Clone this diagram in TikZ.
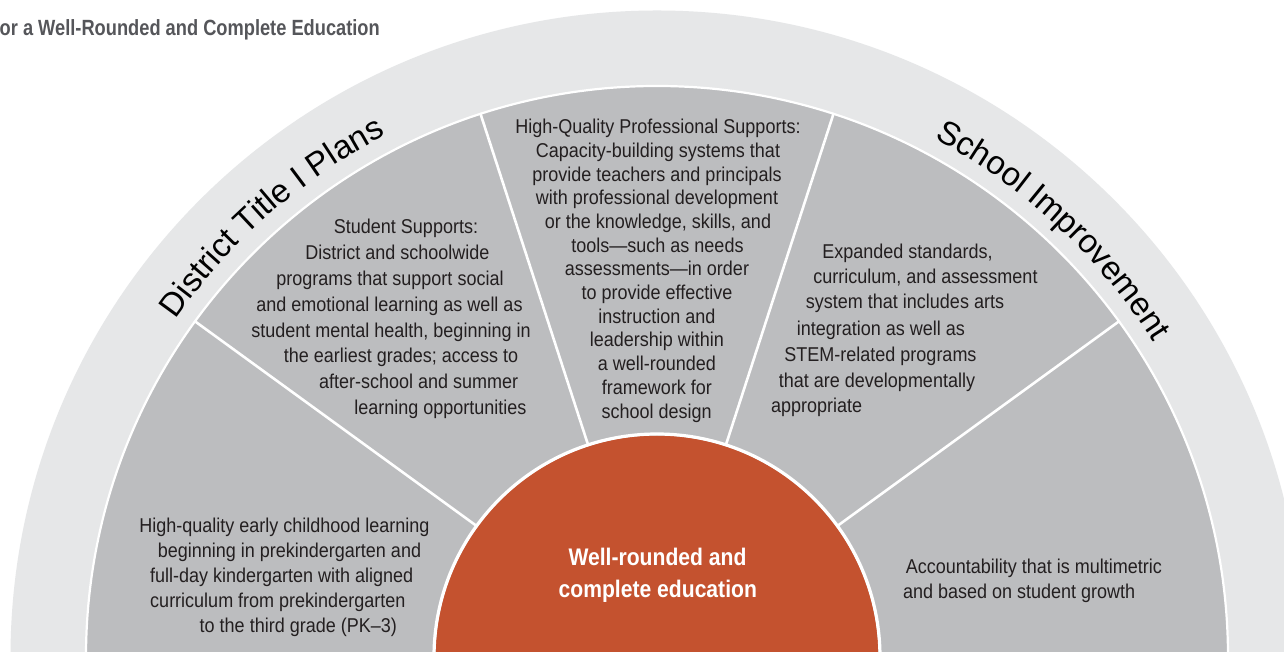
\documentclass[tikz,border=0pt]{standalone}
\usepackage{fontspec}
\setmainfont{Liberation Sans}
\newfontfamily\condfont{Liberation Sans}[FakeStretch=0.88]
\newfontfamily\bodyface{Liberation Sans}[FakeStretch=0.9]
\newfontfamily\titleface{Liberation Sans}[FakeStretch=0.83]
\usetikzlibrary{decorations.text}
\definecolor{ringgray}{HTML}{E6E7E8}
\definecolor{seggray}{HTML}{BCBDBF}
\definecolor{corered}{HTML}{C4522F}
\definecolor{ink}{HTML}{231F20}
\definecolor{titlegray}{HTML}{55565A}
\newcommand\bodyfont{\bodyface\fontsize{20}{24}\selectfont}
\newcommand\curvefont{\fontsize{33}{36}\selectfont}
\newcommand\tline[4]{\node[txt] (#1) at ({#2-657},{649.8-#3}) {#4};}
\begin{document}
\begin{tikzpicture}[x=1pt,y=1pt,
  txt/.style={font=\bodyfont, text=ink, inner sep=0pt, anchor=base},
  coretxt/.style={font=\condfont\bfseries\fontsize{24}{28}\selectfont, text=white, inner sep=0pt, anchor=base},
  spoke/.style={draw=white, line width=2.6pt},
  curvelabel/.style={decorate, decoration={text along path, text align=center, text={|\curvefont|#1}}}]
\useasboundingbox (-657,5) rectangle (627,657);
\clip (-657,5) rectangle (627,657);
\fill[white] (-657,5) rectangle (627,657);
% outer ring
\fill[ringgray] (0,0) circle[radius=646.5];
% gray segments
\fill[seggray] (0,0) circle[radius=570.5];
\draw[white, line width=2.2pt] (0,0) circle[radius=571];
\foreach \a in {36,72,108,144} \draw[spoke] (\a:215) -- (\a:572);
% core
\fill[corered] (0,0) circle[radius=221.5];
\draw[white, line width=3.2pt] (0,0) circle[radius=223];
% title
\node[font=\titleface\bfseries\fontsize{22}{26}\selectfont, text=titlegray, inner sep=0pt, anchor=base east] (title) at (-277,621) {or a Well-Rounded and Complete Education};
% curved labels
\path[curvelabel={District Title I Plans}] (151.2:588) arc[start angle=151.2, end angle=111.2, radius=588];
\path[curvelabel={School Improvement}] (67.1:588) arc[start angle=67.1, end angle=27.1, radius=588];
% middle segment
\tline{m1}{658}{126.5}{High-Quality Professional Supports:}
\tline{m2}{658}{150.2}{Capacity-building systems that}
\tline{m3}{657}{173.9}{provide teachers and principals}
\tline{m4}{657}{197.6}{with professional development}
\tline{m5}{658}{221.3}{or the knowledge, skills, and}
\tline{m6}{657.5}{245}{tools—such as needs}
\tline{m7}{657}{268.7}{assessments—in order}
\tline{m8}{657}{292.4}{to provide effective}
\tline{m9}{657}{316.1}{instruction and}
\tline{m10}{657}{339.8}{leadership within}
\tline{m11}{657}{363.5}{a well-rounded}
\tline{m12}{657}{387.2}{framework for}
\tline{m13}{656.7}{410.9}{school design}
% student supports
\tline{s1}{406}{226.7}{Student Supports:}
\tline{s2}{397.5}{252}{District and schoolwide}
\tline{s3}{390}{278}{programs that support social}
\tline{s4}{389.5}{304}{and emotional learning as well as}
\tline{s5}{391}{330}{student mental health, beginning in}
\tline{s6}{401}{355.7}{the earliest grades; access to}
\tline{s7}{418.7}{381.7}{after-school and summer}
\tline{s8}{440.5}{407.3}{learning opportunities}
% expanded standards
\tline{e1}{907.5}{251.7}{Expanded standards,}
\tline{e2}{925.5}{276.7}{curriculum, and assessment}
\tline{e3}{905}{301.7}{system that includes arts}
\tline{e4}{880.8}{328.3}{integration as well as}
\tline{e5}{880.5}{354}{STEM-related programs}
\tline{e6}{877}{380}{that are developmentally}
\tline{e7}{816.7}{405}{appropriate}
% early childhood
\tline{l1}{284.5}{525}{High-quality early childhood learning}
\tline{l2}{289.5}{550}{beginning in prekindergarten and}
\tline{l3}{281.7}{575}{full-day kindergarten with aligned}
\tline{l4}{277.8}{600}{curriculum from prekindergarten}
\tline{l5}{298.3}{625}{to the third grade (PK–3)}
% accountability
\tline{r1}{1033.8}{566}{Accountability that is multimetric}
\tline{r2}{1019.2}{591.7}{and based on student growth}
% core text
\node[coretxt] (c1) at (0.5,91.5) {Well-rounded and};
\node[coretxt] (c2) at (0.8,59) {complete education};
\end{tikzpicture}
\end{document}
